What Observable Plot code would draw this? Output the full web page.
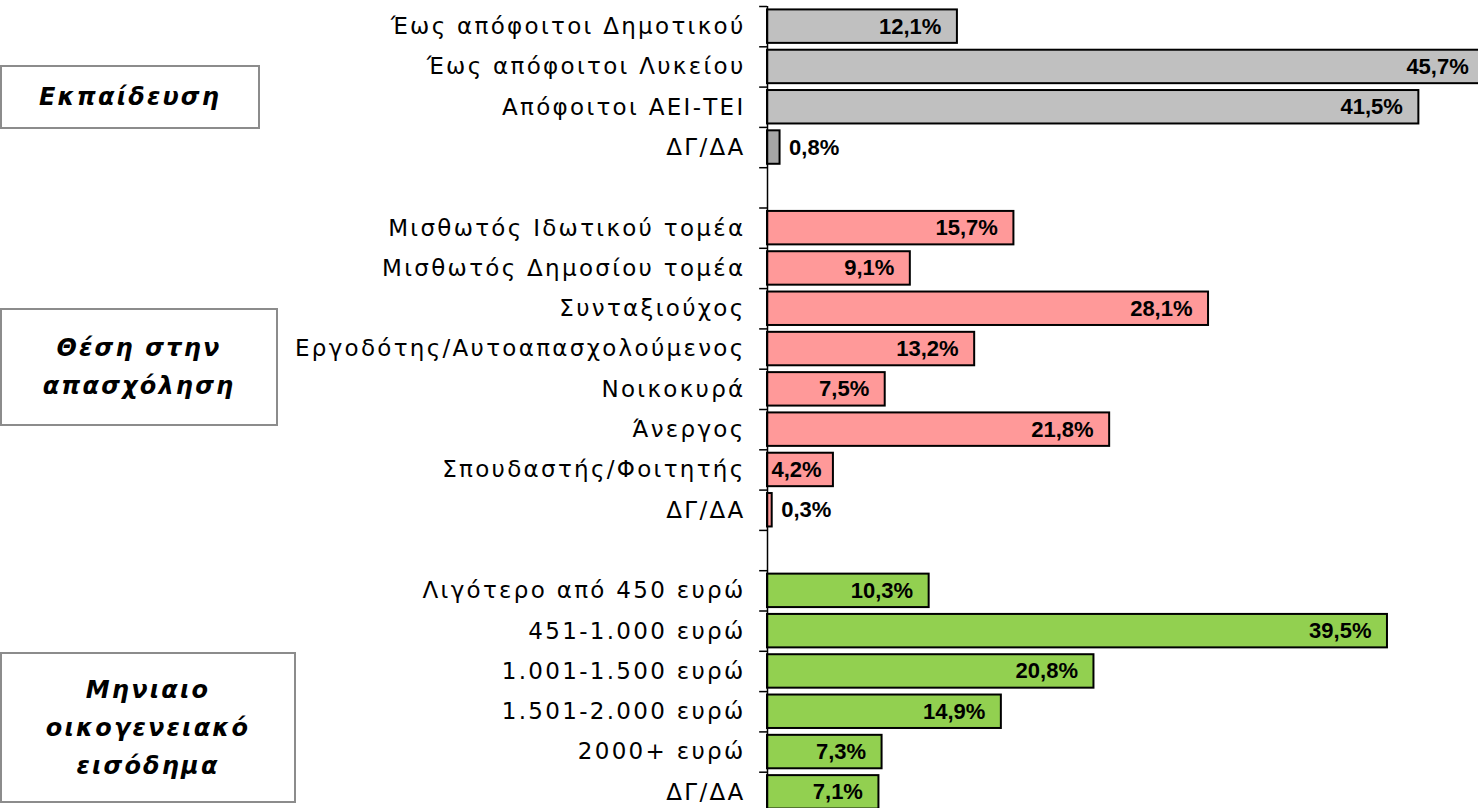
<!DOCTYPE html>
<html>
<head>
<meta charset="utf-8">
<script src="https://cdn.jsdelivr.net/npm/d3@7"></script>
<script src="https://cdn.jsdelivr.net/npm/@observablehq/plot@0.6"></script>
<style>
  html, body { margin: 0; padding: 0; background: #fff; overflow: hidden; }
  #wrap { position: relative; width: 1478px; height: 808px; }
  .box { position: absolute; box-sizing: border-box; border: 2px solid #8c8c8c; background: #fff;
         display: flex; align-items: center; justify-content: center; text-align: center;
         font-family: "DejaVu Sans", sans-serif; font-weight: bold; font-style: italic; font-size: 24px; letter-spacing: 2.2px; line-height: 38px; color: #000; }
  .ylab text { letter-spacing: 2.3px; }
</style>
</head>
<body>
<div id="wrap"></div>
<script>
const categories = [
  "Έως απόφοιτοι Δημοτικού", "Έως απόφοιτοι Λυκείου", "Απόφοιτοι ΑΕΙ-ΤΕΙ", "ΔΓ/ΔΑ",
  " ",
  "Μισθωτός Ιδωτικού τομέα", "Μισθωτός Δημοσίου τομέα", "Συνταξιούχος", "Εργοδότης/Αυτοαπασχολούμενος",
  "Νοικοκυρά", "Άνεργος", "Σπουδαστής/Φοιτητής", "ΔΓ/ΔΑ ",
  "  ",
  "Λιγότερο από 450 ευρώ", "451-1.000 ευρώ", "1.001-1.500 ευρώ", "1.501-2.000 ευρώ", "2000+ ευρώ", "ΔΓ/ΔΑ  "
];
const values = [12.1, 45.7, 41.5, 0.8, null, 15.7, 9.1, 28.1, 13.2, 7.5, 21.8, 4.2, 0.3, null, 10.3, 39.5, 20.8, 14.9, 7.3, 7.1];
const groups = ["edu","edu","edu","eduNA", null, "job","job","job","job","job","job","job","job", null, "inc","inc","inc","inc","inc","inc"];
const groupNames = ["Εκπαίδευση", "Θέση στην<br>απασχόληση", "Μηνιαιο<br>οικογενειακό<br>εισόδημα"];
const colorDomain = ["edu", "eduNA", "job", "inc"];
const colorRange = ["#c0c0c0", "#a6a6a6", "#ff9999", "#92d050"];

const data = categories.map((c, i) => ({cat: c, value: values[i], group: groups[i]}));
const bars = data.filter(d => d.value != null);
const fmt = v => v.toFixed(1).replace(".", ",") + "%";

const step = 40.3;
const valueFont = "Liberation Sans, Arial, sans-serif";
const chart = Plot.plot({
  width: 1478,
  height: 812,
  marginLeft: 767,
  marginRight: 0,
  marginTop: 6,
  marginBottom: 0,
  style: {fontFamily: "DejaVu Sans, sans-serif", fontSize: "23px", color: "#000", background: "transparent", overflow: "visible"},
  x: {domain: [0, 45.3], axis: null},
  y: {domain: categories, paddingInner: 0.17, paddingOuter: 0.085, round: false, label: null},
  color: {domain: colorDomain, range: colorRange},
  marks: [
    Plot.barX(bars, {y: "cat", x: "value", fill: "group", stroke: "#000", strokeWidth: 2}),
    Plot.axisY({tickSize: 0, tickPadding: 22, fontSize: 23, className: "ylab", tickFormat: d => d.trim() === "" ? "" : d.trim(), label: null}),
    Plot.ruleX([0], {stroke: "#000", strokeWidth: 1.5}),
    Plot.ruleY(categories, {y: d => d, dy: -step / 2, x1: -0.5, x2: 0, stroke: "#000", strokeWidth: 1.5}),
    Plot.ruleY([categories[categories.length - 1]], {y: d => d, dy: step / 2, x1: -0.5, x2: 0, stroke: "#000", strokeWidth: 1.5}),
    Plot.text(bars.filter(d => d.value >= 5), {y: "cat", x: "value", text: d => fmt(d.value), textAnchor: "end", dx: -16, fontWeight: "bold", fontSize: 22, fontFamily: valueFont}),
    Plot.text(bars.filter(d => d.value >= 1 && d.value < 5), {y: "cat", x: 0, text: d => fmt(d.value), textAnchor: "start", dx: 4, fontWeight: "bold", fontSize: 22, fontFamily: valueFont}),
    Plot.text(bars.filter(d => d.value < 1), {y: "cat", x: "value", text: d => fmt(d.value), textAnchor: "start", dx: 9, fontWeight: "bold", fontSize: 22, fontFamily: valueFont})
  ]
});
const wrap = document.getElementById("wrap");
chart.style.position = "absolute";
chart.style.left = "0px";
chart.style.top = "0px";
wrap.appendChild(chart);

const boxes = [
  {text: groupNames[0], left: 0, top: 65, width: 260, height: 64},
  {text: groupNames[1], left: 0, top: 308, width: 278, height: 118},
  {text: groupNames[2], left: 0, top: 652, width: 296, height: 151}
];
boxes.forEach(b => {
  const el = document.createElement("div");
  el.className = "box";
  el.style.left = b.left + "px"; el.style.top = b.top + "px";
  el.style.width = b.width + "px"; el.style.height = b.height + "px";
  el.innerHTML = b.text;
  wrap.appendChild(el);
});
</script>
</body>
</html>
